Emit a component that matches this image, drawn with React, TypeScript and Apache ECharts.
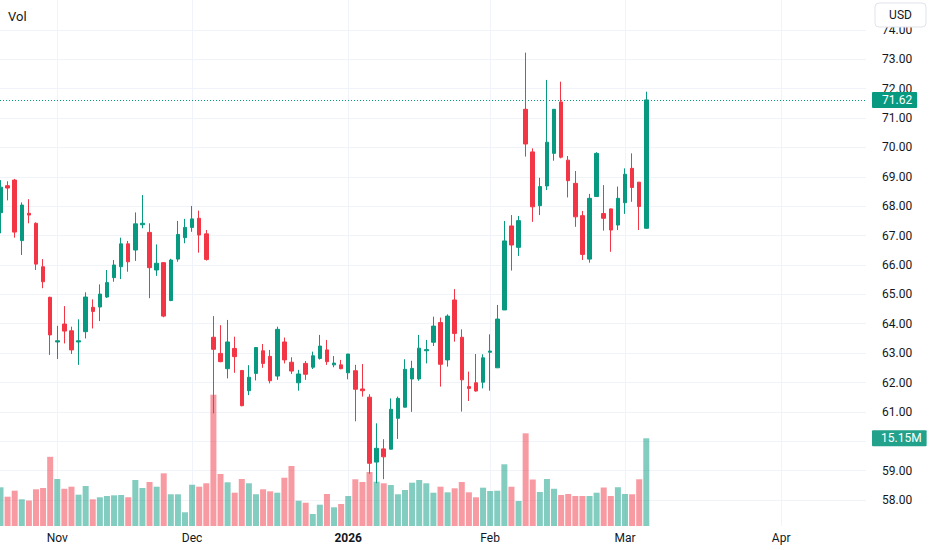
import React, { useEffect, useRef } from "react";
import * as echarts from "echarts";

// Trading calendar (day numbers per month)
const oct25 = [22, 23, 24, 27, 28, 29, 30, 31];
const nov25 = [3, 4, 5, 6, 7, 10, 11, 12, 13, 14, 17, 18, 19, 20, 21, 24, 25, 26, 28];
const dec25 = [1, 2, 3, 4, 5, 8, 9, 10, 11, 12, 15, 16, 17, 18, 19, 22, 23, 24, 26, 29, 30, 31];
const jan26 = [2, 5, 6, 7, 8, 9, 12, 13, 14, 15, 16, 20, 21, 22, 23, 26, 27, 28, 29, 30];
const feb26 = [2, 3, 4, 5, 6, 9, 10, 11, 12, 13, 17, 18, 19, 20, 23, 24, 25, 26, 27];
const mar26 = [2, 3, 4, 5, 6, 9, 10, 11, 12, 13, 16, 17, 18, 19, 20, 23, 24, 25, 26, 27, 30, 31];
const apr26 = [1, 2, 6, 7, 8, 9, 10, 13, 14, 15, 16, 17];

const xTickDates = ["2025-11-03", "2025-12-01", "2026-01-02", "2026-02-02", "2026-03-02", "2026-04-01"];
const xTickLabels = ["Nov", "Dec", "2026", "Feb", "Mar", "Apr"];
const xTickBold = [false, false, true, false, false, false];

const priceTicks = [58, 59, 60, 61, 62, 63, 64, 65, 66, 67, 68, 69, 70, 71, 72, 73, 74];

const opens = [
  67.78, 68.70, 68.89, 66.83, 67.76, 67.42, 65.94, 64.90, 63.38, 63.99,
  63.76, 63.38, 63.73, 64.56, 64.57, 64.91, 65.57, 65.94, 66.72, 66.51,
  67.37, 67.11, 65.83, 66.08, 64.79, 66.20, 66.93, 67.28, 67.59, 67.06,
  63.54, 62.99, 62.47, 63.16, 62.41, 61.72, 62.31, 63.08, 62.89, 62.22,
  63.38, 62.69, 61.99, 62.65, 62.52, 62.82, 63.11, 62.60, 62.60, 62.33,
  62.40, 61.78, 61.50, 59.29, 59.74, 59.73, 60.78, 61.16, 62.12, 62.12,
  63.08, 63.37, 64.04, 62.77, 64.81, 63.54, 61.86, 61.99, 62.01, 63.03,
  62.50, 64.47, 67.33, 66.60, 71.30, 69.85, 68.02, 68.69, 69.80, 71.55,
  69.57, 68.78, 67.68, 66.20, 68.33, 67.75, 67.91, 67.36, 68.12, 69.29,
  68.82, 67.25,
];
const closes = [
  68.65, 68.62, 67.12, 68.04, 67.70, 66.03, 65.43, 63.62, 63.42, 63.75,
  63.11, 63.42, 64.91, 64.42, 65.01, 65.40, 66.00, 66.72, 66.11, 67.40,
  67.42, 65.91, 66.06, 64.26, 66.17, 67.04, 67.28, 67.57, 67.02, 66.19,
  63.13, 62.71, 63.38, 62.88, 61.21, 62.18, 63.19, 62.65, 62.06, 63.81,
  62.77, 62.39, 62.29, 62.28, 62.91, 63.24, 62.71, 62.66, 62.47, 62.97,
  61.77, 61.72, 59.25, 59.76, 59.47, 61.09, 61.46, 62.45, 62.48, 63.17,
  63.12, 63.92, 62.62, 64.26, 63.67, 62.09, 61.80, 61.71, 62.84, 63.07,
  64.16, 66.82, 66.68, 67.51, 70.12, 67.98, 68.67, 70.18, 71.30, 69.67,
  68.87, 67.64, 66.36, 68.27, 69.80, 67.59, 67.19, 68.27, 69.09, 68.64,
  67.99, 71.62,
];
const lows = [
  67.08, 68.20, 66.93, 66.34, 67.42, 65.83, 65.21, 62.94, 62.80, 63.33,
  62.97, 62.60, 63.50, 63.84, 64.09, 64.88, 65.43, 65.52, 65.77, 66.14,
  67.25, 64.87, 65.63, 64.22, 64.77, 66.11, 66.74, 67.13, 66.42, 66.15,
  60.95, 62.69, 62.14, 62.33, 61.19, 61.57, 62.07, 62.50, 61.97, 62.09,
  62.65, 62.29, 61.72, 62.09, 62.46, 62.78, 62.60, 62.52, 62.45, 62.11,
  60.68, 61.52, 58.89, 58.57, 58.71, 59.72, 60.08, 61.15, 61.00, 62.06,
  62.65, 63.24, 61.86, 62.54, 63.39, 61.01, 61.37, 61.69, 61.80, 61.72,
  62.50, 64.47, 65.81, 66.31, 69.69, 67.47, 67.70, 68.55, 69.55, 69.63,
  68.30, 67.30, 66.17, 66.08, 68.32, 67.17, 66.45, 67.19, 67.74, 68.15,
  67.19, 67.24,
];
const highs = [
  68.89, 68.85, 68.93, 68.13, 68.24, 67.45, 66.20, 64.92, 63.93, 64.60,
  63.90, 64.15, 65.07, 64.83, 65.34, 65.83, 66.17, 66.93, 66.82, 67.79,
  68.38, 67.42, 66.70, 66.10, 66.21, 67.50, 67.57, 68.01, 67.85, 67.19,
  64.26, 63.95, 64.13, 63.56, 62.42, 62.59, 63.20, 63.31, 63.11, 63.90,
  63.53, 62.86, 62.43, 62.73, 63.05, 63.62, 63.45, 62.90, 62.77, 62.97,
  62.60, 62.63, 61.60, 60.61, 60.07, 61.46, 61.52, 62.79, 62.74, 63.62,
  63.45, 64.24, 64.21, 64.32, 65.18, 63.81, 62.37, 62.97, 62.96, 63.64,
  64.64, 67.50, 67.70, 67.67, 73.23, 69.97, 68.97, 72.30, 71.30, 72.24,
  69.71, 69.20, 67.84, 68.42, 69.84, 68.72, 67.92, 68.67, 69.29, 69.80,
  68.82, 71.90,
];
// Volume in millions
const volumes = [
  6.68, 5.06, 6.10, 4.61, 4.40, 6.34, 6.56, 11.95, 8.12, 6.43,
  6.79, 5.41, 6.91, 4.61, 4.96, 5.18, 5.30, 5.36, 4.96, 7.95,
  6.56, 7.60, 6.79, 9.10, 5.48, 5.48, 2.37, 7.13, 6.79, 7.38,
  22.66, 8.98, 7.55, 5.75, 8.12, 7.38, 5.48, 6.34, 5.99, 5.75,
  8.34, 10.36, 4.37, 4.02, 2.07, 3.68, 5.53, 3.23, 3.80, 5.18,
  8.07, 7.60, 9.33, 7.65, 7.38, 7.08, 5.48, 6.22, 7.48, 7.95,
  7.38, 5.75, 6.79, 5.82, 6.51, 7.60, 5.82, 4.96, 6.62, 6.05,
  6.10, 10.66, 6.79, 4.32, 16.01, 8.03, 5.87, 8.12, 6.43, 5.36,
  5.53, 5.18, 5.18, 5.18, 5.75, 6.65, 5.18, 6.70, 5.53, 5.48,
  8.07, 15.15,
];

const UP = "#089981";
const DOWN = "#F23645";
const UP_VOL = "rgba(8,153,129,0.5)";
const DOWN_VOL = "rgba(242,54,69,0.5)";
const TEXT = "#131722";
const GRID = "#f0f3fa";
const FONT = "Roboto, 'Noto Sans', sans-serif";

function pad(n: number) {
  return n < 10 ? "0" + n : "" + n;
}

export default function App() {
  const ref = useRef<HTMLDivElement>(null);

  useEffect(() => {
    if (!ref.current) return;
    const chart = echarts.init(ref.current, null, { renderer: "svg" });

    const months: [number, number, number[]][] = [
      [2025, 10, oct25],
      [2025, 11, nov25],
      [2025, 12, dec25],
      [2026, 1, jan26],
      [2026, 2, feb26],
      [2026, 3, mar26],
      [2026, 4, apr26],
    ];
    const days: string[] = [];
    months.forEach(([y, m, list]) => list.forEach((d) => days.push(`${y}-${pad(m)}-${pad(d)}`)));
    const tickIdx = xTickDates.map((d) => days.indexOf(d));

    const candles = opens.map((o, i) => [i, o, closes[i], lows[i], highs[i]]);
    const volData = volumes.map((v, i) => ({
      value: [i, v],
      itemStyle: { color: closes[i] >= opens[i] ? UP_VOL : DOWN_VOL },
    }));
    const last = opens.length - 1;
    const lastUp = closes[last] >= opens[last];

    chart.setOption({
      animation: false,
      backgroundColor: "#ffffff",
      textStyle: { fontFamily: FONT },
      grid: { left: 0, right: 66, top: 0, bottom: 24, containLabel: false, outerBoundsMode: "none" },
      xAxis: {
        type: "value",
        min: -0.0705,
        max: 121.96,
        axisLine: { show: false },
        axisTick: { show: false, customValues: tickIdx },
        axisLabel: {
          customValues: tickIdx,
          margin: 6,
          color: TEXT,
          fontSize: 12,
          fontFamily: FONT,
          formatter: (v: number) => {
            const k = tickIdx.indexOf(Math.round(v));
            if (k < 0) return "";
            return xTickBold[k] ? `{b|${xTickLabels[k]}}` : xTickLabels[k];
          },
          rich: { b: { fontWeight: "bold", fontSize: 12, color: TEXT, fontFamily: FONT } },
        },
        splitLine: { show: true, lineStyle: { color: GRID, width: 1 } },
      },
      yAxis: [
        {
          type: "value",
          position: "right",
          min: 57.115,
          max: 75.021,
          axisLine: { show: false },
          axisTick: { show: false, customValues: priceTicks },
          axisLabel: {
            customValues: priceTicks,
            margin: 16,
            color: TEXT,
            fontSize: 12,
            fontFamily: FONT,
            formatter: (v: number) => v.toFixed(2),
          },
          splitLine: { show: true, lineStyle: { color: GRID, width: 1 } },
        },
        {
          type: "value",
          min: 0,
          max: 90.86,
          show: false,
          splitLine: { show: false },
        },
      ],
      series: [
        {
          type: "bar",
          name: "Vol",
          xAxisIndex: 0,
          yAxisIndex: 1,
          barWidth: 6,
          data: volData,
          z: 1,
          markLine: {
            silent: true,
            symbol: ["none", "none"],
            lineStyle: { color: "rgba(0,0,0,0)", width: 1, type: "solid" },
            label: {
              show: true,
              position: "end",
              distance: 6,
              formatter: volumes[last].toFixed(2) + "M",
              backgroundColor: "#22a18b",
              color: "#ffffff",
              fontSize: 12,
              fontFamily: FONT,
              lineHeight: 12,
              padding: [2, 5, 2, 9],
              borderRadius: 1,
            },
            data: [{ yAxis: volumes[last] }],
          },
        },
        {
          type: "candlestick",
          xAxisIndex: 0,
          yAxisIndex: 0,
          barWidth: 4,
          data: candles,
          z: 3,
          itemStyle: {
            color: UP,
            color0: DOWN,
            borderColor: UP,
            borderColor0: DOWN,
            borderWidth: 1,
          },
          markLine: {
            silent: true,
            symbol: ["none", "none"],
            lineStyle: { color: lastUp ? UP : DOWN, type: [1, 2], width: 1 },
            label: {
              show: true,
              position: "end",
              distance: 6,
              formatter: closes[last].toFixed(2),
              backgroundColor: lastUp ? UP : DOWN,
              color: "#ffffff",
              fontSize: 12,
              fontFamily: FONT,
              lineHeight: 12,
              padding: [2, 5, 2, 10],
              borderRadius: 1,
            },
            data: [{ yAxis: closes[last] }],
          },
        },
      ],
      graphic: [
        {
          type: "text",
          left: 8,
          top: 10,
          z: 100,
          style: { text: "Vol", fill: TEXT, font: `13px ${FONT}` },
        },
        {
          type: "rect",
          z: 100,
          shape: { x: 875, y: 3, width: 51, height: 24, r: 4 },
          style: { fill: "#ffffff", stroke: "#e0e3eb", lineWidth: 1 },
        },
        {
          type: "text",
          z: 101,
          x: 900.5,
          y: 15,
          style: {
            text: "USD",
            fill: TEXT,
            font: `12px ${FONT}`,
            textAlign: "center",
            textVerticalAlign: "middle",
          },
        },
      ],
    });

    return () => chart.dispose();
  }, []);

  return (
    <div
      ref={ref}
      style={{ position: "fixed", left: 0, top: 0, width: 932, height: 550, background: "#fff" }}
    />
  );
}
